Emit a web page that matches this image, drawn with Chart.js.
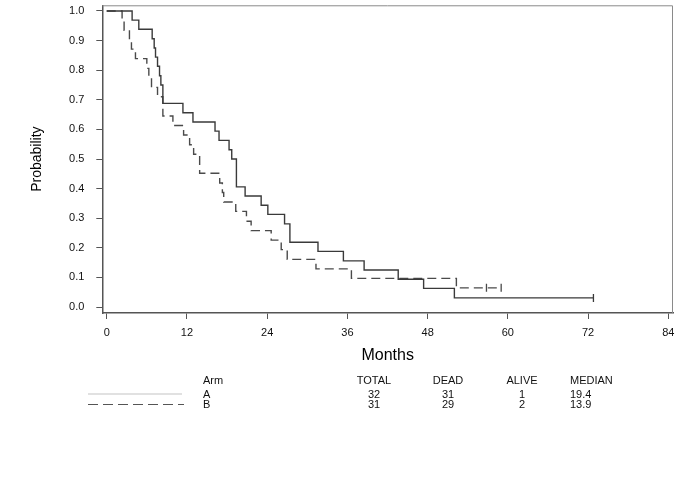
<!DOCTYPE html>
<html>
<head>
<meta charset="utf-8">
<script src="https://cdn.jsdelivr.net/npm/chart.js@4.4.1/dist/chart.umd.min.js"></script>
<style>
  html, body { margin: 0; padding: 0; background: #fff; }
  #wrap { width: 685px; height: 490px; }
</style>
</head>
<body>
<div id="wrap"><canvas id="kmChart" width="685" height="490"></canvas></div>
<script>
// axis ticks
const monthTicks = [0, 12, 24, 36, 48, 60, 72, 84];
const probTicks = [0, 0.1, 0.2, 0.3, 0.4, 0.5, 0.6, 0.7, 0.8, 0.9, 1.0];

// Arm A (solid) - step times (months) and survival after each step
const timesA = [0, 3.8, 4.8, 6.8, 7.1, 7.3, 7.6, 7.9, 8.1, 8.4, 11.4, 12.9, 16.2, 16.8, 18.3, 18.7, 19.4,
  20.7, 23.1, 24.1, 26.6, 27.4, 31.6, 35.4, 38.5, 43.6, 47.4, 52.0, 72.8];
const survA = [1, 0.969, 0.938, 0.906, 0.875, 0.844, 0.813, 0.781, 0.75, 0.688, 0.656, 0.625, 0.594, 0.563, 0.531, 0.5, 0.406,
  0.375, 0.344, 0.313, 0.281, 0.219, 0.188, 0.156, 0.125, 0.094, 0.063, 0.031, 0.031];
const censorTimesA = [72.8];
const censorSurvA = [0.031];

// Arm B (dashed)
const timesB = [0, 2.3, 2.6, 3.4, 3.7, 4.3, 6.0, 6.3, 6.7, 7.6, 8.4, 9.9, 11.5, 12.4, 13.0, 13.9, 16.9, 17.3, 17.5,
  19.3, 20.9, 21.6, 24.6, 26.1, 27.0, 31.3, 36.6, 52.3, 59.0];
const survB = [1, 0.968, 0.935, 0.903, 0.871, 0.839, 0.806, 0.774, 0.742, 0.710, 0.645, 0.613, 0.581, 0.548, 0.516, 0.452, 0.419, 0.387, 0.355,
  0.323, 0.290, 0.258, 0.226, 0.194, 0.161, 0.129, 0.097, 0.065, 0.065];
const censorTimesB = [56.8, 59.0];
const censorSurvB = [0.065, 0.065];

// summary table
const tableHeaders = ["Arm", "TOTAL", "DEAD", "ALIVE", "MEDIAN"];
const armNames = ["A", "B"];
const armTotal = [32, 31];
const armDead = [31, 29];
const armAlive = [1, 2];
const armMedian = ["19.4", "13.9"];

const FONT = '"Liberation Sans", Arial, sans-serif';

const toPoints = (xs, ys) => xs.map((x, i) => ({ x: x, y: ys[i] }));

// box on top/right + the summary table under the plot
const kmExtras = {
  id: "kmExtras",
  afterDraw(chart) {
    const ctx = chart.ctx;
    const a = chart.chartArea;
    ctx.save();
    ctx.strokeStyle = "#8a8a8a";
    ctx.lineWidth = 1;
    ctx.beginPath();
    ctx.moveTo(a.left, a.top + 0.5);
    ctx.lineTo(a.right - 0.5, a.top + 0.5);
    ctx.lineTo(a.right - 0.5, a.bottom);
    ctx.stroke();

    // legend lines
    ctx.strokeStyle = "#c4c4c4";
    ctx.lineWidth = 1.2;
    ctx.beginPath();
    ctx.moveTo(88, 394);
    ctx.lineTo(182, 394);
    ctx.stroke();
    ctx.strokeStyle = "#555";
    ctx.setLineDash([10, 5]);
    ctx.beginPath();
    ctx.moveTo(88, 404.5);
    ctx.lineTo(184, 404.5);
    ctx.stroke();
    ctx.setLineDash([]);

    ctx.fillStyle = "#111";
    ctx.font = "11px " + FONT;
    ctx.textBaseline = "middle";
    const cols = [
      { x: 203, align: "left" },
      { x: 374, align: "center" },
      { x: 448, align: "center" },
      { x: 522, align: "center" },
      { x: 570, align: "left" }
    ];
    tableHeaders.forEach((h, i) => {
      ctx.textAlign = cols[i].align;
      ctx.fillText(h, cols[i].x, 381);
    });
    armNames.forEach((name, r) => {
      const y = 395 + r * 10;
      const row = [name, armTotal[r], armDead[r], armAlive[r], armMedian[r]];
      row.forEach((v, i) => {
        ctx.textAlign = cols[i].align;
        ctx.fillText(String(v), cols[i].x, y);
      });
    });
    ctx.restore();
  }
};

new Chart(document.getElementById("kmChart"), {
  type: "line",
  data: {
    datasets: [
      {
        label: "A",
        data: toPoints(timesA, survA),
        stepped: true,
        borderColor: "#3a3a3a",
        borderWidth: 1.4,
        pointRadius: 0,
        fill: false
      },
      {
        label: "B",
        data: toPoints(timesB, survB),
        stepped: true,
        borderColor: "#4a4a4a",
        borderWidth: 1.4,
        borderDash: [9, 5],
        pointRadius: 0,
        fill: false
      },
      {
        label: "A censored",
        data: toPoints(censorTimesA, censorSurvA),
        showLine: false,
        pointStyle: "line",
        rotation: 90,
        pointRadius: 4,
        borderColor: "#3a3a3a",
        borderWidth: 1.3
      },
      {
        label: "B censored",
        data: toPoints(censorTimesB, censorSurvB),
        showLine: false,
        pointStyle: "line",
        rotation: 90,
        pointRadius: 4,
        borderColor: "#4a4a4a",
        borderWidth: 1.3
      }
    ]
  },
  options: {
    responsive: false,
    devicePixelRatio: 1,
    animation: false,
    layout: { padding: { top: 1, right: 12, bottom: 125, left: 28 } },
    plugins: {
      legend: { display: false },
      tooltip: { enabled: false }
    },
    scales: {
      x: {
        type: "linear",
        min: -0.66,
        max: 84.7,
        afterBuildTicks: (s) => { s.ticks = monthTicks.map((v) => ({ value: v })); },
        afterFit: (s) => { s.height = 52; s.paddingLeft = 0; s.paddingRight = 0; },
        grid: { drawOnChartArea: false, tickLength: 6, color: "#555" },
        border: { color: "#555", width: 1.5 },
        ticks: { padding: 7, color: "#111", font: { family: FONT, size: 11 }, maxRotation: 0, autoSkip: false },
        title: { display: true, text: "Months", color: "#000", font: { family: FONT, size: 16 }, padding: { top: 0, bottom: 0 } }
      },
      y: {
        min: -0.02,
        max: 1.019,
        afterBuildTicks: (s) => { s.ticks = probTicks.map((v) => ({ value: v })); },
        afterFit: (s) => { s.width = 74.3; s.paddingTop = 0; s.paddingBottom = 0; },
        grid: { drawOnChartArea: false, tickLength: 6, color: "#555" },
        border: { color: "#555", width: 1.5 },
        ticks: {
          padding: 12,
          color: "#111",
          font: { family: FONT, size: 11 },
          callback: (v) => v.toFixed(1)
        },
        title: { display: true, text: "Probability", color: "#000", font: { family: FONT, size: 14 }, padding: { top: 1, bottom: 0 } }
      }
    }
  },
  plugins: [kmExtras]
});
</script>
</body>
</html>
